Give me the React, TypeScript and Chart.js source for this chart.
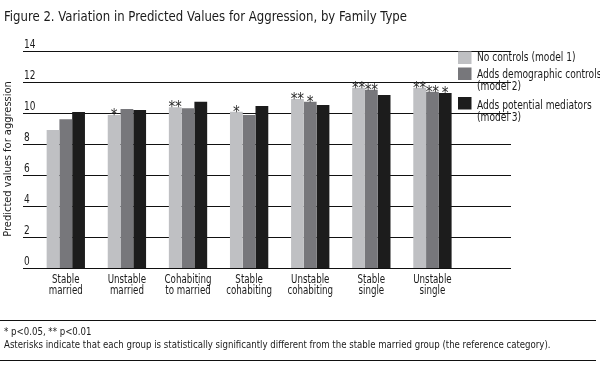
import React, { useEffect, useRef } from "react";
import { Chart, registerables } from "chart.js";

Chart.register(...registerables);

const title = "Figure 2. Variation in Predicted Values for Aggression, by Family Type";
const yAxisTitle = "Predicted values for aggression";
const categories: string[][] = [
  ["Stable", "married"],
  ["Unstable", "married"],
  ["Cohabiting", "to married"],
  ["Stable", "cohabiting"],
  ["Unstable", "cohabiting"],
  ["Stable", "single"],
  ["Unstable", "single"],
];
const seriesNames: string[][] = [
  ["No controls (model 1)"],
  ["Adds demographic controls", "(model 2)"],
  ["Adds potential mediators", "(model 3)"],
];
const model1 = [8.9, 9.87, 10.37, 10.08, 10.9, 11.63, 11.63];
const model2 = [9.6, 10.26, 10.3, 9.87, 10.73, 11.5, 11.37];
const model3 = [10.06, 10.19, 10.73, 10.45, 10.52, 11.16, 11.29];
const stars1 = ["", "*", "**", "*", "**", "**", "**"];
const stars2 = ["", "", "", "", "*", "**", "**"];
const stars3 = ["", "", "", "", "", "", "*"];
const yTicks = [0, 2, 4, 6, 8, 10, 12, 14];
const footnotes = [
  "* p<0.05, ** p<0.01",
  "Asterisks indicate that each group is statistically significantly different from the stable married group (the reference category).",
];
const colors = ["#bfc0c3", "#77777b", "#1c1c1c"];

const FONT = '"DejaVu Sans Condensed", "Liberation Sans Narrow", sans-serif';

function drawText(ctx: any, text: string, x: number, y: number, size: number, squeeze: number, align: string) {
  ctx.save();
  ctx.translate(x, y);
  ctx.scale(squeeze, 1);
  ctx.font = `${size}px ${FONT}`;
  ctx.textAlign = align;
  ctx.textBaseline = "middle";
  ctx.fillText(text, 0, 0);
  ctx.restore();
}

const decorPlugin = {
  id: "decor",
  beforeDatasetsDraw(chart: any) {
    const ctx = chart.ctx;
    const y = chart.scales.y;
    ctx.save();
    ctx.strokeStyle = "#111";
    ctx.lineWidth = 1;
    ctx.fillStyle = "#1a1a1a";
    yTicks.forEach((t) => {
      const py = Math.round(y.getPixelForValue(t)) + 0.5;
      ctx.beginPath();
      ctx.moveTo(23, py);
      ctx.lineTo(511, py);
      ctx.stroke();
      drawText(ctx, String(t), 24, py - 6.5, 12.5, 0.8, "left");
    });
    ctx.restore();
  },
  afterDatasetsDraw(chart: any) {
    const ctx = chart.ctx;
    const x = chart.scales.x;
    const y = chart.scales.y;
    ctx.save();
    const py0 = Math.round(y.getPixelForValue(0)) + 0.5;
    ctx.strokeStyle = "#111";
    ctx.lineWidth = 1;
    ctx.beginPath();
    ctx.moveTo(23, py0);
    ctx.lineTo(511, py0);
    ctx.stroke();

    // asterisks
    const allStars = [stars1, stars2, stars3];
    ctx.fillStyle = "#2a2a2a";
    ctx.font = `15px ${FONT}`;
    ctx.textAlign = "center";
    ctx.textBaseline = "alphabetic";
    allStars.forEach((stars, di) => {
      const meta = chart.getDatasetMeta(di);
      meta.data.forEach((bar: any, i: number) => {
        const s = stars[i];
        if (!s) return;
        const n = s.length;
        for (let k = 0; k < n; k++) {
          const sx = bar.x + (k - (n - 1) / 2) * 6.5;
          ctx.fillText("*", sx, bar.y + 5);
        }
      });
    });

    // x labels
    ctx.fillStyle = "#1a1a1a";
    categories.forEach((lines, i) => {
      const cx = x.getPixelForValue(i);
      lines.forEach((l, li) => drawText(ctx, l, cx, 280 + li * 11.5, 11.5, 0.84, "center"));
    });

    // title
    drawText(ctx, title, 4, 17, 13.5, 0.965, "left");

    // y axis title
    ctx.save();
    ctx.translate(8, 159);
    ctx.rotate(-Math.PI / 2);
    drawText(ctx, yAxisTitle, 0, 0, 11, 1, "center");
    ctx.restore();

    // legend
    const boxY = [51.5, 67.5, 97];
    const textY = [[58], [75, 87], [106, 118]];
    seriesNames.forEach((lines, i) => {
      ctx.fillStyle = colors[i];
      ctx.fillRect(458, boxY[i], 13.5, 12.5);
      ctx.fillStyle = "#1a1a1a";
      lines.forEach((l, li) => drawText(ctx, l, 477, textY[i][li], 11.5, 0.88, "left"));
    });

    // footnotes
    ctx.beginPath();
    ctx.moveTo(0, 320.5);
    ctx.lineTo(596, 320.5);
    ctx.moveTo(0, 360.5);
    ctx.lineTo(596, 360.5);
    ctx.strokeStyle = "#111";
    ctx.stroke();
    ctx.fillStyle = "#1a1a1a";
    drawText(ctx, footnotes[0], 4, 332, 11, 0.87, "left");
    drawText(ctx, footnotes[1], 4, 345, 11, 0.87, "left");
    ctx.restore();
  },
};

export default function App() {
  const ref = useRef<HTMLCanvasElement | null>(null);
  useEffect(() => {
    document.body.style.margin = "0";
    const canvas = ref.current!;
    const chart = new Chart(canvas, {
      type: "bar",
      data: {
        labels: categories.map((c) => c.join(" ")),
        datasets: [
          { label: seriesNames[0].join(" "), data: model1, backgroundColor: colors[0] },
          { label: seriesNames[1].join(" "), data: model2, backgroundColor: colors[1] },
          { label: seriesNames[2].join(" "), data: model3, backgroundColor: colors[2] },
        ],
      },
      options: {
        animation: false,
        responsive: false,
        maintainAspectRatio: false,
        layout: { padding: { left: 35.25, right: 137, top: 51, bottom: 109 } },
        datasets: { bar: { categoryPercentage: 0.627, barPercentage: 1 } },
        plugins: { legend: { display: false }, title: { display: false }, tooltip: { enabled: false } },
        scales: {
          x: { display: false },
          y: { display: false, min: 0, max: 14 },
        },
      },
      plugins: [decorPlugin],
    });
    return () => chart.destroy();
  }, []);
  return (
    <div style={{ width: 600, height: 377, background: "#fff", overflow: "hidden" }}>
      <canvas ref={ref} width={600} height={377} style={{ display: "block" }} />
    </div>
  );
}
